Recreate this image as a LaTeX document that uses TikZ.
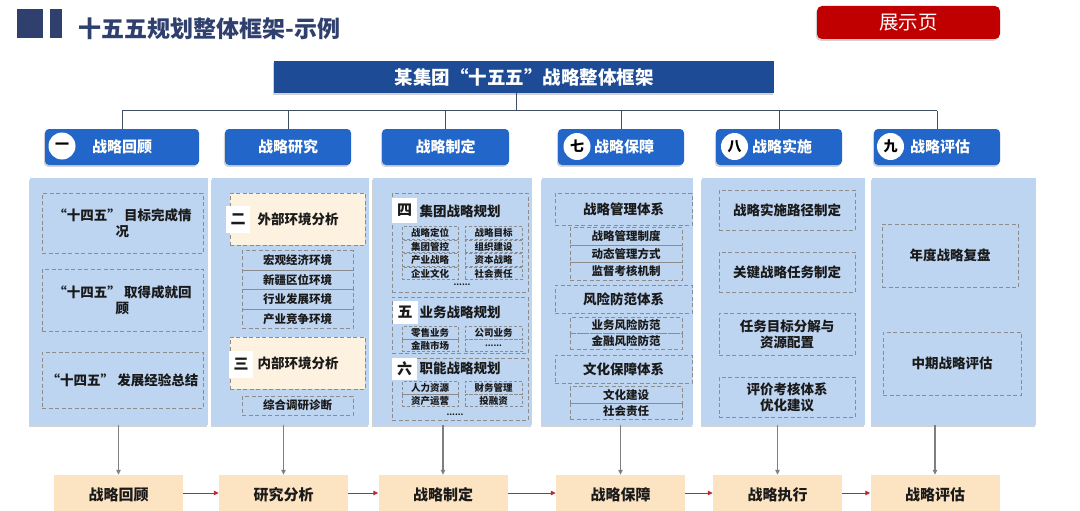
\documentclass[tikz,border=0pt]{standalone}
\usepackage{fontspec}
\setmainfont{Noto Sans CJK SC}
\usetikzlibrary{shadows,arrows.meta}
\definecolor{navy}{HTML}{2F3F6E}
\definecolor{barblue}{HTML}{1E4B95}
\definecolor{btnblue}{HTML}{2166C8}
\definecolor{panelblue}{HTML}{BED5F2}
\definecolor{peachlight}{HTML}{FDF1DF}
\definecolor{peach}{HTML}{FCE3C1}
\definecolor{redbtn}{HTML}{C00000}
\definecolor{dashgray}{HTML}{8C8C8C}
\definecolor{connc}{HTML}{3F4F5F}
\definecolor{arrgray}{HTML}{7F7F7F}
\definecolor{arrred}{HTML}{C0282D}
\definecolor{txt}{HTML}{1A1A1A}
\newcommand\fsz[2]{\fontsize{#1}{#2}\selectfont}
\begin{document}
\begin{tikzpicture}[x=1pt,y=-1pt,
  shd/.style={drop shadow={shadow xshift=-1.2pt,shadow yshift=-1.8pt,opacity=0.35}},
  hdr/.style={fill=btnblue,rounded corners=4pt,text=white,font=\fsz{15}{18}\bfseries,minimum height=36pt,inner sep=0pt,shd},
  badge/.style={circle,fill=white,minimum size=27pt,inner sep=0pt,font=\fsz{14}{16}\bfseries,text=black},
  panel/.style={fill=panelblue,minimum height=247pt,inner sep=0pt,shd},
  dbox/.style={draw=dashgray,dash pattern=on 4pt off 2.5pt,line width=0.8pt,inner sep=0pt,align=center,text=txt,font=\fsz{13.5}{16}\bfseries},
  sbox/.style={dbox,font=\fsz{11.5}{13}\bfseries},
  tbox/.style={dbox,line width=0.6pt,dash pattern=on 3pt off 2pt,font=\fsz{9.5}{11}\bfseries,minimum height=12.5pt},
  pbox/.style={dbox,fill=peachlight},
  sq/.style={fill=white,inner sep=0pt,text=txt,font=\fsz{15}{17}\bfseries},
  ptxt/.style={inner sep=0pt,text=txt,font=\fsz{13.5}{16}\bfseries},
  fbox/.style={fill=peach,minimum width=129pt,minimum height=40pt,inner sep=0pt,text=txt,font=\fsz{15}{18}\bfseries},
  conn/.style={draw=connc,line width=1pt},
  garrow/.style={draw=arrgray,line width=1.2pt,-{Triangle[length=5pt,width=4.5pt]}},
  rarrow/.style={draw=arrred,line width=1pt,-{Triangle[length=5pt,width=4.5pt]}}
]
\useasboundingbox[fill=white] (0,0) rectangle (1080,511);

% title
\fill[navy] (17,9) rectangle (43,38);
\fill[navy] (50,9) rectangle (62,38);
\node[anchor=west,inner sep=0pt,text=navy,font=\fsz{23}{26}\bfseries] (title) at (78,29) {十五五规划整体框架-示例};
\node[fill=redbtn,rounded corners=5pt,minimum width=183pt,minimum height=33pt,inner sep=0pt,text=white,font=\fsz{19.5}{22},shd] (show) at (908.5,22.5) {展示页};

% main bar
\node[fill=barblue,minimum width=500pt,minimum height=32pt,inner sep=0pt,text=white,font=\fsz{18.5}{21}\bfseries,shd] (bar) at (524,77) {某集团“十五五”战略整体框架};

% header buttons
\node[hdr,minimum width=154pt] (h1) at (122,147) {战略回顾};
\node[hdr,minimum width=126pt] (h2) at (288,147) {战略研究};
\node[hdr,minimum width=127pt] (h3) at (445.5,147) {战略制定};
\node[hdr,minimum width=126pt] (h4) at (621,147) {\hspace*{6pt}战略保障};
\node[hdr,minimum width=126pt] (h5) at (779,147) {\hspace*{6pt}战略实施};
\node[hdr,minimum width=126pt] (h6) at (937,147) {\hspace*{6pt}战略评估};
\node[badge] (c1) at (62,146) {一};
\node[badge] (c4) at (577,146.5) {七};
\node[badge] (c5) at (734.5,146.5) {八};
\node[badge] (c6) at (890.5,146.5) {九};

% tree connectors
\coordinate (hub) at (516,111);
\draw[conn] (hub |- bar.south) -- (hub);
\draw[conn] (h1.north |- hub) -- (h6.north |- hub);
\foreach \i in {1,...,6} \draw[conn] (h\i.north |- hub) -- (h\i.north);

% panels
\node[panel,minimum width=178pt] (p1) at (119,301.5) {};
\node[panel,minimum width=157pt] (p2) at (290.5,301.5) {};
\node[panel,minimum width=159pt] (p3) at (452.5,301.5) {};
\node[panel,minimum width=151pt] (p4) at (617.5,301.5) {};
\node[panel,minimum width=163pt] (p5) at (783.5,301.5) {};
\node[panel,minimum width=164pt] (p6) at (954,301.5) {};

% panel 1
\node[dbox,minimum width=161pt,minimum height=60pt] (a1) at (122.5,223) {“十四五” 目标完成情\\况};
\node[dbox,minimum width=161pt,minimum height=62pt] (a2) at (122.5,300) {“十四五” 取得成就回\\顾};
\node[dbox,minimum width=161pt,minimum height=56pt] (a3) at (122.5,380) {“十四五” 发展经验总结};

% panel 2
\node[pbox,minimum width=135pt,minimum height=52pt] (r1) at (297.5,219) {};
\node[sq,minimum width=24pt,minimum height=27pt] (s2) at (238,219.5) {二};
\node[ptxt] (r1t) at (298,219) {外部环境分析};
\node[sbox,minimum width=111pt,minimum height=19.5pt] (r11) at (297.5,260.5) {宏观经济环境};
\node[sbox,minimum width=111pt,minimum height=19.5pt] (r12) at (297.5,280) {新疆区位环境};
\node[sbox,minimum width=111pt,minimum height=19.5pt] (r13) at (297.5,299.5) {行业发展环境};
\node[sbox,minimum width=111pt,minimum height=19.5pt] (r14) at (297.5,319) {产业竞争环境};
\node[pbox,minimum width=135pt,minimum height=52pt] (r2) at (297.5,363) {};
\node[sq,minimum width=24pt,minimum height=27pt] (s3) at (241,364) {三};
\node[ptxt] (r2t) at (298,363) {内部环境分析};
\node[sbox,minimum width=111pt,minimum height=19pt] (r21) at (297.5,405.5) {综合调研诊断};

% panel 3
\node[dbox,minimum width=136pt,minimum height=99pt] (g1) at (460,242.5) {};
\node[sq,minimum width=25pt,minimum height=25pt] (s4) at (404.5,210.5) {四};
\node[ptxt] (g1t) at (460,211) {集团战略规划};
\node[tbox,minimum width=56pt] (g11) at (430,233) {战略定位};
\node[tbox,minimum width=56pt] (g12) at (430,246.5) {集团管控};
\node[tbox,minimum width=56pt] (g13) at (430,260) {产业战略};
\node[tbox,minimum width=56pt] (g14) at (430,273.5) {企业文化};
\node[tbox,minimum width=57pt] (g15) at (493.5,233) {战略目标};
\node[tbox,minimum width=57pt] (g16) at (493.5,246.5) {组织建设};
\node[tbox,minimum width=57pt] (g17) at (493.5,260) {资本战略};
\node[tbox,minimum width=57pt] (g18) at (493.5,273.5) {社会责任};
\node[inner sep=0pt,font=\fsz{8}{9}\bfseries,text=txt] (g1d) at (462,285) {......};

\node[dbox,minimum width=136pt,minimum height=56pt] (g2) at (460,325) {};
\node[sq,minimum width=25pt,minimum height=23pt] (s5) at (405,312) {五};
\node[ptxt] (g2t) at (460,312) {业务战略规划};
\node[tbox,minimum width=56pt] (g21) at (430,333) {零售业务};
\node[tbox,minimum width=56pt] (g22) at (430,345.5) {金融市场};
\node[tbox,minimum width=57pt] (g23) at (493.5,333) {公司业务};
\node[tbox,minimum width=57pt,font=\fsz{8}{9}\bfseries] (g24) at (493.5,345.5) {......};

\node[dbox,minimum width=136pt,minimum height=62pt] (g3) at (460,389) {};
\node[sq,minimum width=25pt,minimum height=22pt] (s6) at (404.5,369) {六};
\node[ptxt] (g3t) at (460,368) {职能战略规划};
\node[tbox,minimum width=56pt] (g31) at (430,388) {人力资源};
\node[tbox,minimum width=56pt] (g32) at (430,400.5) {资产运营};
\node[tbox,minimum width=57pt] (g33) at (493.5,388) {财务管理};
\node[tbox,minimum width=57pt] (g34) at (493.5,400.5) {投融资};
\node[inner sep=0pt,font=\fsz{8}{9}\bfseries,text=txt] (g3d) at (455,415) {......};

% panel 4
\node[dbox,minimum width=137pt,minimum height=32pt] (m1) at (623.5,209) {战略管理体系};
\node[sbox,minimum width=112pt,minimum height=17.5pt] (m11) at (626,236.5) {战略管理制度};
\node[sbox,minimum width=112pt,minimum height=17.5pt] (m12) at (626,254) {动态管理方式};
\node[sbox,minimum width=112pt,minimum height=17.5pt] (m13) at (626,271.5) {监督考核机制};
\node[dbox,minimum width=137pt,minimum height=28pt] (m2) at (623.5,299) {风险防范体系};
\node[sbox,minimum width=112pt,minimum height=16pt] (m21) at (626,325) {业务风险防范};
\node[sbox,minimum width=112pt,minimum height=16pt] (m22) at (626,341) {金融风险防范};
\node[dbox,minimum width=137pt,minimum height=28pt] (m3) at (623.5,369) {文化保障体系};
\node[sbox,minimum width=112pt,minimum height=16.5pt] (m31) at (626,395) {文化建设};
\node[sbox,minimum width=112pt,minimum height=16.5pt] (m32) at (626,411.5) {社会责任};

% panel 5
\node[dbox,minimum width=136pt,minimum height=40pt] (k1) at (787,210) {战略实施路径制定};
\node[dbox,minimum width=136pt,minimum height=40pt] (k2) at (787,272) {关键战略任务制定};
\node[dbox,minimum width=136pt,minimum height=42pt] (k3) at (787,334) {任务目标分解与\\资源配置};
\node[dbox,minimum width=136pt,minimum height=40pt] (k4) at (787,397) {评价考核体系\\优化建议};

% panel 6
\node[dbox,minimum width=136pt,minimum height=63pt] (e1) at (950,255.5) {年度战略复盘};
\node[dbox,minimum width=138pt,minimum height=63pt] (e2) at (952,363.5) {中期战略评估};

% bottom flow
\node[fbox] (b1) at (118.5,495) {战略回顾};
\node[fbox] (b2) at (283.5,495) {研究分析};
\node[fbox] (b3) at (443,495) {战略制定};
\node[fbox] (b4) at (620.5,495) {战略保障};
\node[fbox] (b5) at (777.5,495) {战略执行};
\node[fbox] (b6) at (935,495) {战略评估};
\foreach \i in {1,...,6} \draw[garrow] (b\i.north |- p\i.south) -- (b\i.north);
\draw[rarrow] (b1.east |- 0,493) -- (b2.west |- 0,493);
\draw[rarrow] (b2.east |- 0,493) -- (b3.west |- 0,493);
\draw[rarrow] (b3.east |- 0,493) -- (b4.west |- 0,493);
\draw[rarrow] (b4.east |- 0,493) -- (b5.west |- 0,493);
\draw[rarrow] (b5.east |- 0,493) -- (b6.west |- 0,493);
\end{tikzpicture}
\end{document}
